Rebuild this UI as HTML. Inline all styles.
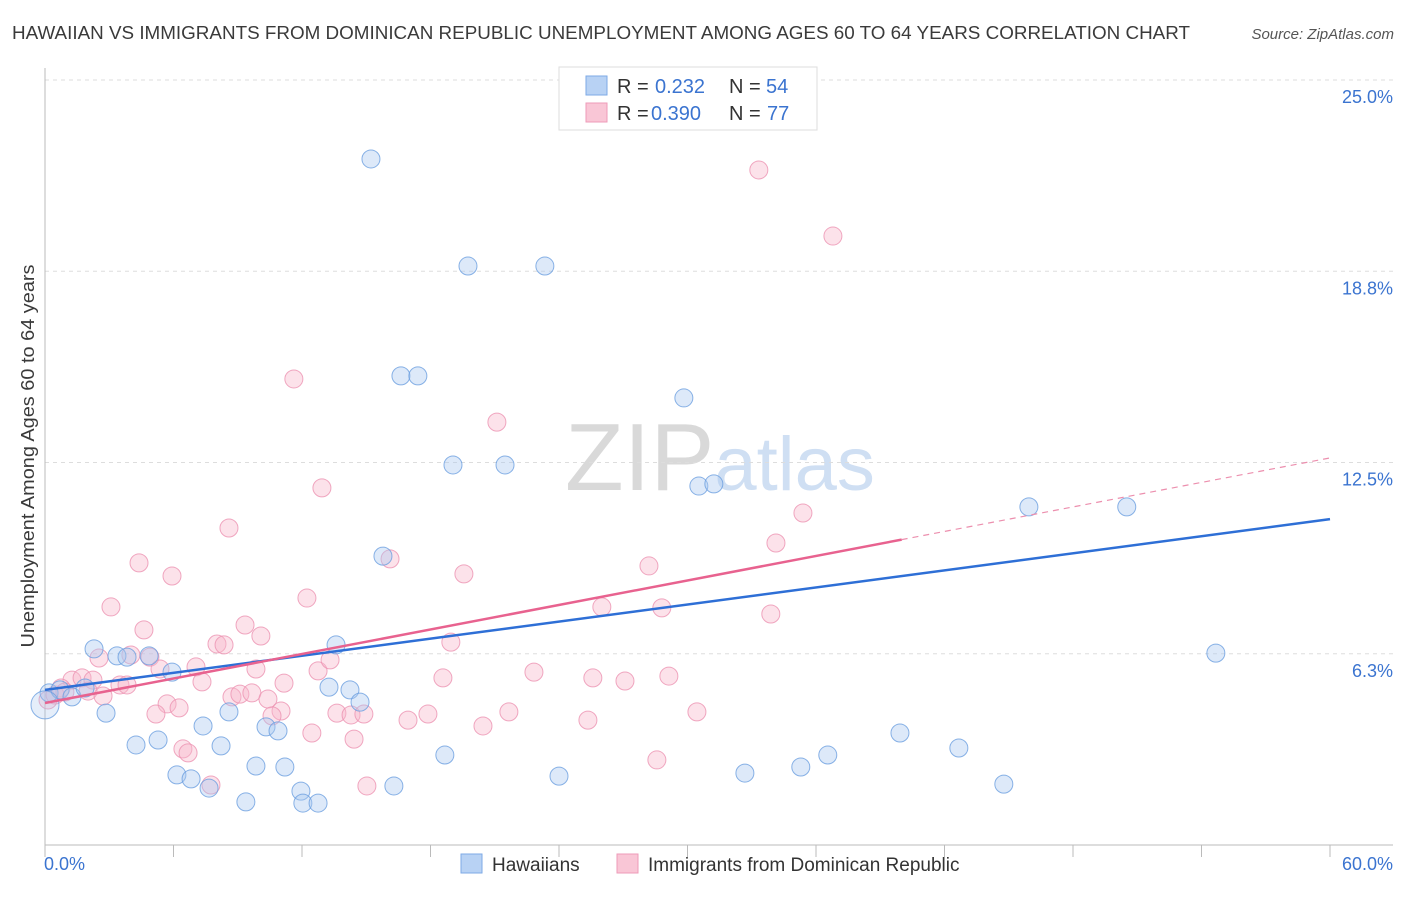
<!DOCTYPE html>
<html><head><meta charset="utf-8">
<style>
body{margin:0;background:#fff;font-family:"Liberation Sans",sans-serif;}
svg text{font-family:"Liberation Sans",sans-serif;}
</style></head>
<body>
<svg id="chart" width="1406" height="892" xmlns="http://www.w3.org/2000/svg">
<text x="12" y="39" font-size="18" fill="#3a3a3a" textLength="1178" lengthAdjust="spacingAndGlyphs">HAWAIIAN VS IMMIGRANTS FROM DOMINICAN REPUBLIC UNEMPLOYMENT AMONG AGES 60 TO 64 YEARS CORRELATION CHART</text>
<text x="1394" y="39" font-size="15" fill="#555" font-style="italic" text-anchor="end">Source: ZipAtlas.com</text>
<text x="720" y="490" font-size="96" text-anchor="middle" fill="#ddd" font-family="Liberation Serif"><tspan fill="#d9d9d9">ZIP</tspan><tspan fill="#cfdff3" font-family="Liberation Sans" font-size="76">atlas</tspan></text>
<g id="grid"></g>
<g id="axes"></g>
<g id="pts"></g>
<g id="trend"></g>
<text transform="translate(34,456) rotate(-90)" font-size="18" fill="#3a3a3a" text-anchor="middle" textLength="383" lengthAdjust="spacingAndGlyphs">Unemployment Among Ages 60 to 64 years</text>
<g>
<rect x="559" y="67" width="258" height="63" fill="#fff" stroke="#ddd"/>
<rect x="586" y="76" width="21" height="19" fill="#b8d2f4" stroke="#7eaae6"/>
<rect x="586" y="103" width="21" height="19" fill="#f9c6d6" stroke="#ee9bb8"/>
<text x="617" y="93" font-size="20" fill="#333">R =</text>
<text x="655" y="93" font-size="20" fill="#3b74d0">0.232</text>
<text x="729" y="93" font-size="20" fill="#333">N =</text>
<text x="766" y="93" font-size="20" fill="#3b74d0">54</text>
<text x="617" y="120" font-size="20" fill="#333">R =</text>
<text x="651" y="120" font-size="20" fill="#3b74d0">0.390</text>
<text x="729" y="120" font-size="20" fill="#333">N =</text>
<text x="767" y="120" font-size="20" fill="#3b74d0">77</text>
</g>
<g>
<rect x="461" y="854" width="21" height="19" fill="#b8d2f4" stroke="#7eaae6"/>
<text x="492" y="871" font-size="19" fill="#333">Hawaiians</text>
<rect x="617" y="854" width="21" height="19" fill="#f9c6d6" stroke="#ee9bb8"/>
<text x="648" y="871" font-size="19" fill="#333">Immigrants from Dominican Republic</text>
</g>
</svg>
<script>
const yTicks=[6.25,12.5,18.75,25];
const yTickLabels=["6.3%","12.5%","18.8%","25.0%"];
const xTickCount=10;
const xMin=0,xMax=60,yMin=0,yMax=25;
const blueX=[15.22,19.75,23.34,16.62,17.41,29.83,19.05,21.48,30.53,31.23,45.94,50.51,15.78,54.67,2.29,3.36,3.83,4.86,5.93,13.59,0.19,0.70,1.26,1.87,2.85,13.26,14.24,14.71,4.25,5.28,7.38,8.59,8.22,10.32,10.88,6.16,6.82,7.66,9.38,9.85,11.20,11.95,12.04,12.75,16.29,18.67,24.00,32.68,35.29,36.55,39.92,42.67,44.77,0,27.78];
const blueY=[22.42,18.92,18.92,15.33,15.33,14.61,12.42,12.42,11.73,11.80,11.05,11.05,9.44,6.27,6.41,6.18,6.14,6.18,5.65,6.54,4.97,5.07,4.84,5.13,4.31,5.16,5.07,4.67,3.27,3.43,3.89,4.35,3.24,3.86,3.73,2.29,2.16,1.86,1.41,2.58,2.55,1.76,1.37,1.37,1.93,2.94,2.25,2.35,2.55,2.94,3.66,3.17,1.99,4.58,24.58];
const pinkX=[33.33,36.79,11.62,21.10,12.93,8.59,35.39,34.13,4.39,5.93,16.11,19.56,28.20,12.23,3.08,26.00,28.80,33.89,9.34,4.62,10.08,8.03,8.36,18.95,2.52,4.01,4.90,5.37,7.05,9.85,12.75,13.31,22.83,25.58,27.08,29.13,18.58,1.26,1.73,2.24,0.75,2.01,2.71,3.50,3.83,7.33,11.16,8.73,9.10,9.66,10.41,5.70,5.18,6.26,11.02,10.60,13.63,14.29,14.89,16.95,17.88,21.66,25.35,30.44,12.46,14.43,20.45,6.44,6.68,28.57,7.75,15.03,0.14,0.47,0.93];
const pinkY=[22.06,19.90,15.23,13.82,11.67,10.36,10.85,9.87,9.22,8.79,9.35,8.86,9.12,8.07,7.78,7.78,7.75,7.55,7.19,7.03,6.83,6.57,6.54,6.63,6.11,6.21,6.14,5.75,5.82,5.75,5.69,6.05,5.65,5.46,5.36,5.52,5.46,5.39,5.46,5.39,5.13,5.03,4.87,5.23,5.23,5.33,5.29,4.84,4.93,4.97,4.77,4.61,4.28,4.48,4.38,4.22,4.31,4.25,4.28,4.08,4.28,4.35,4.08,4.35,3.66,3.46,3.89,3.14,3.01,2.78,1.96,1.93,4.74,4.90,5.00];
const blueTrend=[5.07,10.65];
const pinkTrend=[4.64,12.65];
const pinkSolidEnd=40;
const L=45,R=1330,T=80,B=845;
const xs=v=>L+(v-xMin)/(xMax-xMin)*(R-L);
const ys=v=>B-(v-yMin)/(yMax-yMin)*(B-T);
const NS="http://www.w3.org/2000/svg";
function mk(tag,parent,attrs){const e=document.createElementNS(NS,tag);for(const k in attrs)e.setAttribute(k,attrs[k]);parent.appendChild(e);return e;}
const grid=document.getElementById('grid'),axes=document.getElementById('axes'),pts=document.getElementById('pts'),trend=document.getElementById('trend');
yTicks.forEach((t,i)=>{
 const l=mk('line',grid,{x1:L,x2:1393,y1:ys(t),y2:ys(t),stroke:'#ddd','stroke-dasharray':'4,4'});
 
 
 const tx=mk('text',axes,{x:1393,y:ys(t)+23,'font-size':18,fill:'#3b74d0','text-anchor':'end'});
 tx.textContent=yTickLabels[i];
 
 
});
const ya=mk('line',axes,{x1:L,x2:L,y1:68,y2:B,stroke:'#bbb'});


const xa=mk('line',axes,{x1:L,x2:1393,y1:B,y2:B,stroke:'#bbb'});


for(let i=0;i<=xTickCount;i++){
 const v=xMin+i*(xMax-xMin)/xTickCount;
 const tk=mk('line',axes,{x1:xs(v),x2:xs(v),y1:B,y2:B+12,stroke:'#bbb'});
 
 
}
[[xMin,'0.0%','start',44],[xMax,'60.0%','end',1393]].forEach(a=>{
 const tx=mk('text',axes,{x:a[3],y:870,'font-size':18,fill:'#3b74d0','text-anchor':a[2]});
 tx.textContent=a[1];
 
 
});
function drawPts(X,Y,fill,stroke,name){
 X.forEach((x,i)=>{
  const big=(x===0&&name==='blue-point');
  const c=mk('circle',pts,{cx:xs(x),cy:ys(Y[i]),r:big?14:9,fill:fill,'fill-opacity':big?0.3:0.4,stroke:stroke,'stroke-opacity':0.8,'stroke-width':1});
  
  
 });
}
drawPts(pinkX,pinkY,'#f7b6cb','#ec92b1','pink-point');
drawPts(blueX,blueY,'#a9c7f0','#6c9fe0','blue-point');
const bl=mk('line',trend,{x1:xs(xMin),y1:ys(blueTrend[0]),x2:xs(xMax),y2:ys(blueTrend[1]),stroke:'#2e6fd6','stroke-width':2.5});


const py=v=>pinkTrend[0]+(pinkTrend[1]-pinkTrend[0])*(v-xMin)/(xMax-xMin);
const pl=mk('line',trend,{x1:xs(xMin),y1:ys(py(xMin)),x2:xs(pinkSolidEnd),y2:ys(py(pinkSolidEnd)),stroke:'#e8628f','stroke-width':2.5});


const pd=mk('line',trend,{x1:xs(pinkSolidEnd),y1:ys(py(pinkSolidEnd)),x2:xs(xMax),y2:ys(py(xMax)),stroke:'#ec8fae','stroke-width':1.2,'stroke-dasharray':'6,5'});


</script>
</body></html>
